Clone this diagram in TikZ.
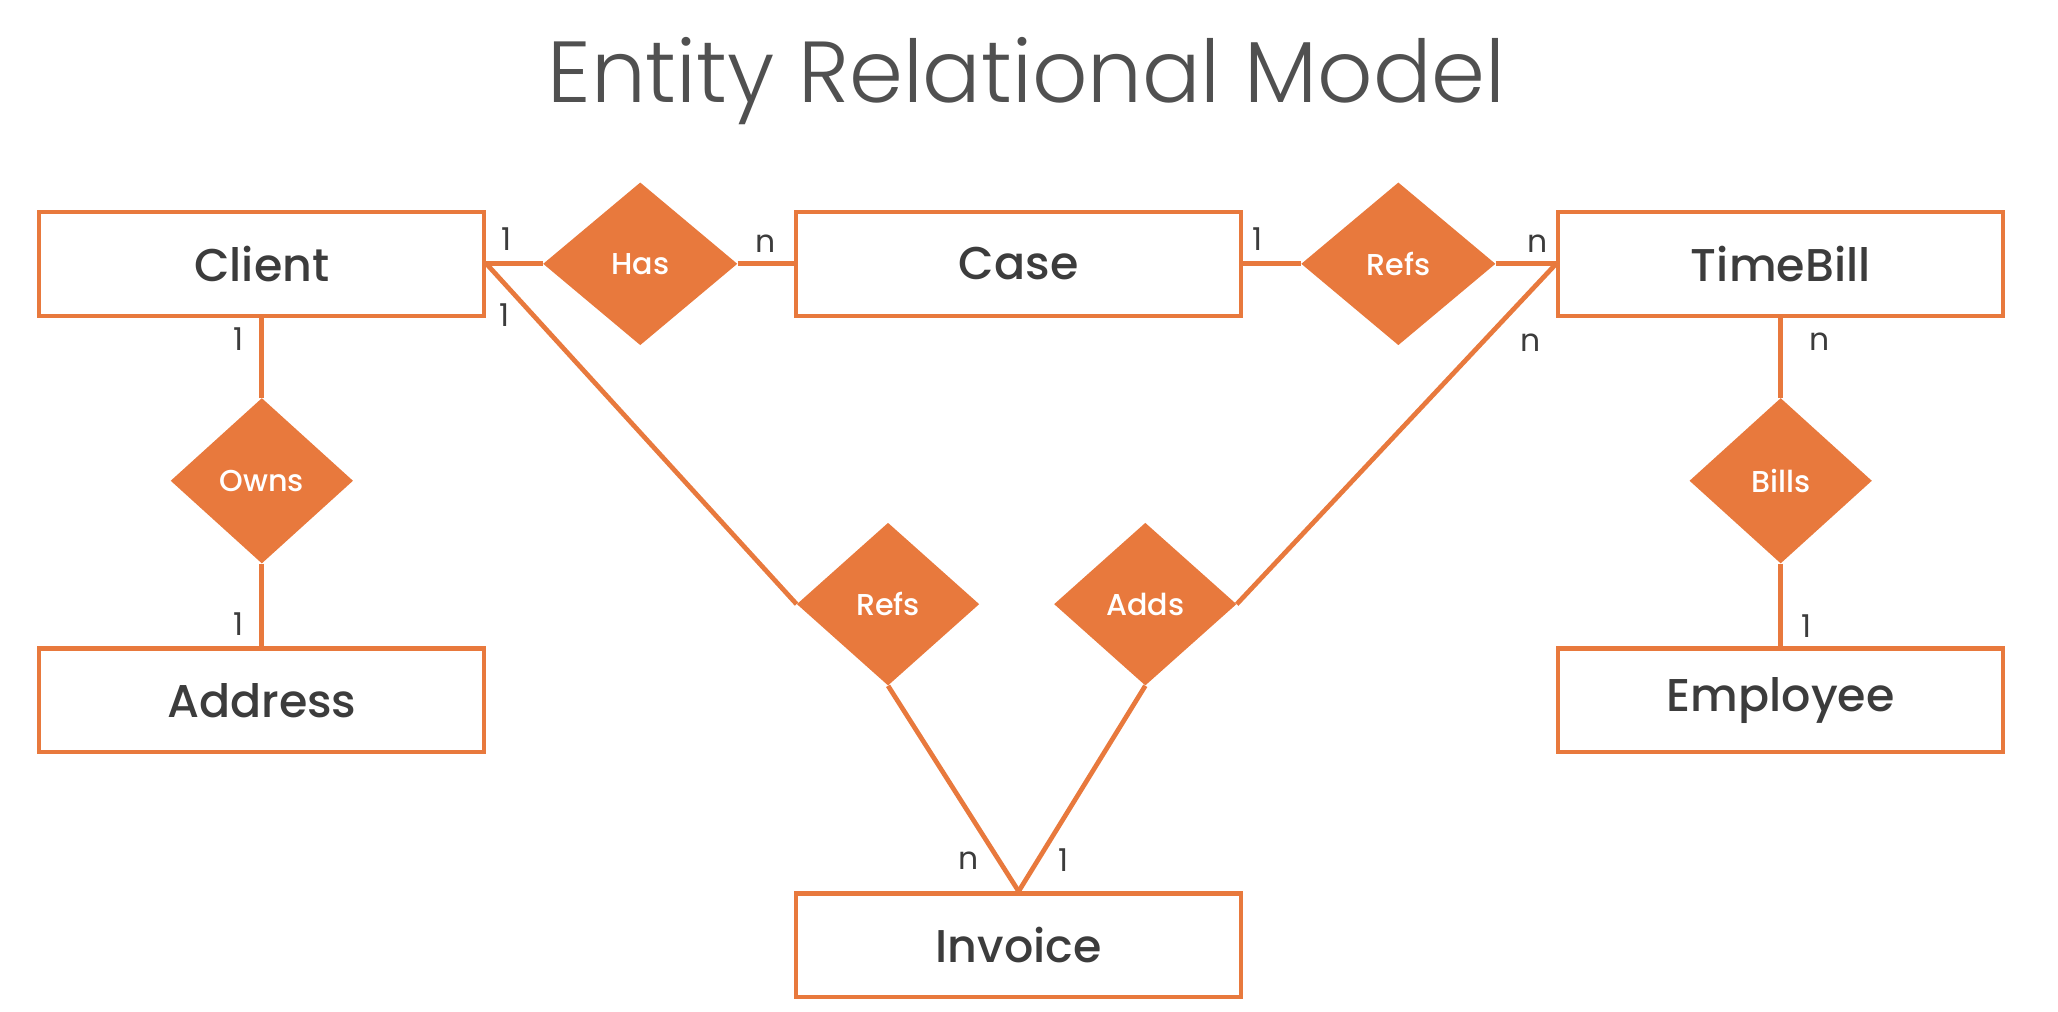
\documentclass[tikz,border=0pt]{standalone}
\usepackage{fontspec}
\setmainfont{Poppins}
\newfontfamily\titlefont{Poppins Light}
\newfontfamily\entityfont{Poppins Medium}
\usepackage{xcolor}
\usepackage{tikz}
\usetikzlibrary{shapes.geometric, positioning}
\definecolor{ermorange}{HTML}{E8793D}
\definecolor{ermtext}{HTML}{3C3C3C}
\definecolor{ermtitle}{HTML}{505050}
\tikzstyle{entity} = [rectangle, minimum width=339pt, minimum height=79pt, text centered, draw=ermorange, fill=white, line width=3.2pt, text=ermtext, font=\entityfont\fontsize{35}{40}\selectfont]
\tikzstyle{relation} = [diamond, minimum width=148pt, minimum height=124pt, inner sep=0pt, text centered, fill=ermorange, text=white, font=\entityfont\fontsize{23}{28}\selectfont]
\tikzstyle{small} = [minimum width=139pt, minimum height=126pt]
\tikzstyle{link} = [line width=3.6pt, draw=ermorange]
\tikzstyle{card} = [inner sep=0pt, text=ermtext, font=\fontsize{24}{28}\selectfont]

\begin{document}
\begin{tikzpicture}[x=1pt, y=-1pt, node distance=43pt]
        \useasboundingbox (0,0) rectangle (1568,771);
        % Title
        \node (title) at (782,62) [text=ermtitle, font=\titlefont\fontsize{66}{80}\selectfont] {Entity Relational Model};

        % Nodes
        \node (client) at (199.5,201) [entity] {Client};
        \node (has) [relation, right=of client] {Has};
        \node (case) [entity, right=of has] {Case};
        \node (refs) [relation, right=44pt of case] {Refs};
        \node (timebill) [entity, right=46pt of refs] {TimeBill};

        \node (owns) [relation, small, below=61pt of client] {Owns};
        \node (address) [entity, below=63pt of owns] {Address};
        \node (bills) [relation, small, below=61pt of timebill] {Bills};
        \node (employee) [entity, below=63pt of bills] {Employee};

        % Invoice branch
        \node (refsinv) [relation, small, minimum height=124pt, below=156pt of case, xshift=-99.5pt] {Refs};
        \node (adds) [relation, small, minimum height=124pt, below=156pt of case, xshift=96.5pt] {Adds};
        \node (invoice) [entity, below=437pt of case] {Invoice};

        % Lines
        \draw [link] (client.east) -- node[card, pos=0.35, above=8pt] {1} (has.west);
        \draw [link] (has.east) -- node[card, pos=0.5, above=7pt] {n} (case.west);
        \draw [link] (case.east) -- node[card, pos=0.25, above=8pt] {1} (refs.west);
        \draw [link] (refs.east) -- node[card, pos=0.7, above=7pt] {n} (timebill.west);

        \draw [link] (client.south) -- node[card, pos=0.27, left=12pt] {1} (owns.north);
        \draw [link] (owns.south) -- node[card, pos=0.73, left=12pt] {1} (address.north);
        \draw [link] (timebill.south) -- node[card, pos=0.3, right=20pt] {n} (bills.north);
        \draw [link] (bills.south) -- node[card, pos=0.75, right=14pt] {1} (employee.north);

        % Refs / Adds loop
        \draw [link] (client.east) -- node[card, pos=0.15, left=16pt] {1} (refsinv.west);
        \draw [link] (timebill.west) -- node[card, pos=0.2, right=20pt, yshift=-8pt] {n} (adds.east);
        \draw [link] (refsinv.south) -- node[card, pos=0.85, left=14pt] {n} (invoice.north);
        \draw [link] (adds.south) -- node[card, pos=0.85, right=14pt] {1} (invoice.north);
    \end{tikzpicture}
\end{document}
